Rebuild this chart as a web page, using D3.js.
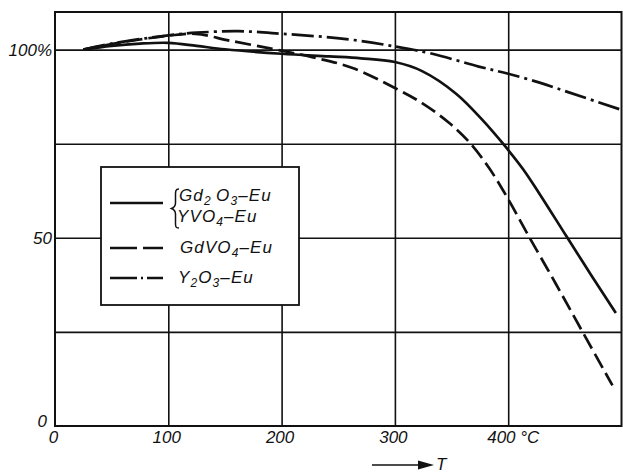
<!DOCTYPE html>
<html>
<head>
<meta charset="utf-8">
<script src="https://cdn.jsdelivr.net/npm/d3@7"></script>
<style>
html,body{margin:0;padding:0;background:#fff;}
svg{display:block;}
text{font-family:"Liberation Sans",Arial,sans-serif;font-style:italic;fill:#111;}
</style>
</head>
<body>
<svg id="chart" width="623" height="473"></svg>
<script>
// ---- data ----
const xTicks = [0, 100, 200, 300, 400];
const xTickLabels = ["0", "100", "200", "300", "400 °C"];
const yGrid = [25, 50, 75, 100];
const yTicks = [0, 50, 100];
const yTickLabels = ["0", "50", "100%"];

const solidT = [25, 50, 75, 100, 125, 150, 200, 242, 270, 300, 324, 354, 377, 396, 413, 427, 451, 473, 495];
const solidV = [100, 101, 101.6, 101.8, 101, 100.1, 98.9, 98.2, 97.7, 96.7, 94.3, 88.3, 81.4, 74.8, 68.3, 62, 50.6, 40.2, 30];

const dashedT = [25, 50, 75, 100, 124, 154, 192, 227, 262, 300, 324, 348, 366, 383, 399, 418, 442, 466, 492];
const dashedV = [100, 101.5, 102.7, 103.7, 104.2, 102.4, 100.2, 98, 95.2, 89.8, 85.8, 80.5, 75.3, 68.6, 60.8, 50.5, 37.8, 24.8, 10.8];

const dashDotT = [25, 50, 75, 100, 125, 162, 201, 257, 301, 333, 374, 400, 427, 450, 498];
const dashDotV = [100, 101.6, 102.8, 103.8, 104.5, 104.9, 104.2, 102.8, 100.8, 98.9, 95.5, 93.6, 91.3, 89, 84.2];

// ---- layout ----
const svg = d3.select("#chart");
const x = d3.scaleLinear().domain([0, 500]).range([55, 621.5]);
const y = d3.scaleLinear().domain([0, 110]).range([426, 12]);

// grid lines via axes
const gx = svg.append("g").attr("transform", `translate(0,${y(0)})`)
  .call(d3.axisBottom(x).tickValues(xTicks.slice(1)).tickSize(-(y(0) - y(110))).tickFormat(""));
gx.select(".domain").remove();
gx.selectAll("line").attr("stroke", "#111").attr("stroke-width", 1.6);

const gy = svg.append("g").attr("transform", `translate(${x(0)},0)`)
  .call(d3.axisLeft(y).tickValues(yGrid).tickSize(-(x(500) - x(0))).tickFormat(""));
gy.select(".domain").remove();
gy.selectAll("line").attr("stroke", "#111").attr("stroke-width", 1.6);

// frame
svg.append("rect")
  .attr("x", x(0)).attr("y", y(110))
  .attr("width", x(500) - x(0)).attr("height", y(0) - y(110))
  .attr("fill", "none").attr("stroke", "#111").attr("stroke-width", 2);

// tick labels
svg.append("g").selectAll("text").data(xTicks).join("text")
  .attr("x", (d, i) => i === 4 ? x(d) - 21 : x(d) - 1.5)
  .attr("y", 443)
  .attr("text-anchor", (d, i) => i === 4 ? "start" : "middle")
  .attr("font-size", 17)
  .text((d, i) => xTickLabels[i]);

svg.append("g").selectAll("text").data(yTicks).join("text")
  .attr("x", (d, i) => i === 0 ? 47 : 52)
  .attr("y", (d, i) => i === 0 ? y(d) + 1 : y(d) + 6)
  .attr("text-anchor", "end")
  .attr("font-size", 17)
  .text((d, i) => yTickLabels[i]);

// curves
const line = d3.line().x(d => x(d[0])).y(d => y(d[1])).curve(d3.curveCatmullRom.alpha(0.5));
const series = [
  {t: solidT, v: solidV, dash: null},
  {t: dashedT, v: dashedV, dash: "16 6"},
  {t: dashDotT, v: dashDotV, dash: "22 5 3 5"}
];
svg.append("g").selectAll("path").data(series).join("path")
  .attr("d", s => line(s.t.map((t, i) => [t, s.v[i]])))
  .attr("fill", "none")
  .attr("stroke", "#111")
  .attr("stroke-width", 2.7)
  .attr("stroke-dasharray", s => s.dash);

// legend
const lg = svg.append("g");
lg.append("rect").attr("x", 101).attr("y", 167).attr("width", 198).attr("height", 138)
  .attr("fill", "#fff").attr("stroke", "#111").attr("stroke-width", 1.8);

const samples = [
  {y: 203, dash: null},
  {y: 248, dash: "27 6 20 0"},
  {y: 278, dash: "27 4 2 4 16 0"}
];
lg.selectAll("line.s").data(samples).join("line")
  .attr("class", "s")
  .attr("x1", 110).attr("x2", 163)
  .attr("y1", d => d.y).attr("y2", d => d.y)
  .attr("stroke", "#111").attr("stroke-width", 2.7)
  .attr("stroke-dasharray", d => d.dash);

// brace
lg.append("path")
  .attr("d", "M179,189 C175,189 175.5,192 175.5,197 L175.5,203 C175.5,206 174,207.5 171.5,208.5 C174,209.5 175.5,211 175.5,214 L175.5,221 C175.5,226 175,228 179,228")
  .attr("fill", "none").attr("stroke", "#111").attr("stroke-width", 1.5);

function formula(g, xx, yy, parts) {
  const t = g.append("text").attr("x", xx).attr("y", yy)
    .attr("font-size", 17).attr("letter-spacing", 1.1);
  let prevSub = false;
  parts.forEach(p => {
    const sp = t.append("tspan").text(p.s);
    if (p.sub) {
      sp.attr("dy", prevSub ? 0 : 4).attr("font-size", 12);
    } else if (prevSub) {
      sp.attr("dy", -4);
    }
    prevSub = !!p.sub;
  });
  return t;
}
formula(lg, 179, 201, [{s: "Gd"}, {s: "2 ", sub: true}, {s: "O"}, {s: "3", sub: true}, {s: "–Eu"}]);
formula(lg, 177, 222, [{s: "YVO"}, {s: "4", sub: true}, {s: "–Eu"}]);
formula(lg, 180, 253, [{s: "GdVO"}, {s: "4", sub: true}, {s: "–Eu"}]);
formula(lg, 178, 283, [{s: "Y"}, {s: "2", sub: true}, {s: "O"}, {s: "3", sub: true}, {s: "–Eu"}]);

// T arrow
svg.append("line").attr("x1", 372).attr("x2", 422).attr("y1", 465).attr("y2", 465)
  .attr("stroke", "#111").attr("stroke-width", 1.6);
svg.append("path").attr("d", "M418,460.5 L434,465 L418,469.5 Z").attr("fill", "#111");
svg.append("text").attr("x", 436).attr("y", 470).attr("font-size", 17).text("T");
</script>
</body>
</html>
